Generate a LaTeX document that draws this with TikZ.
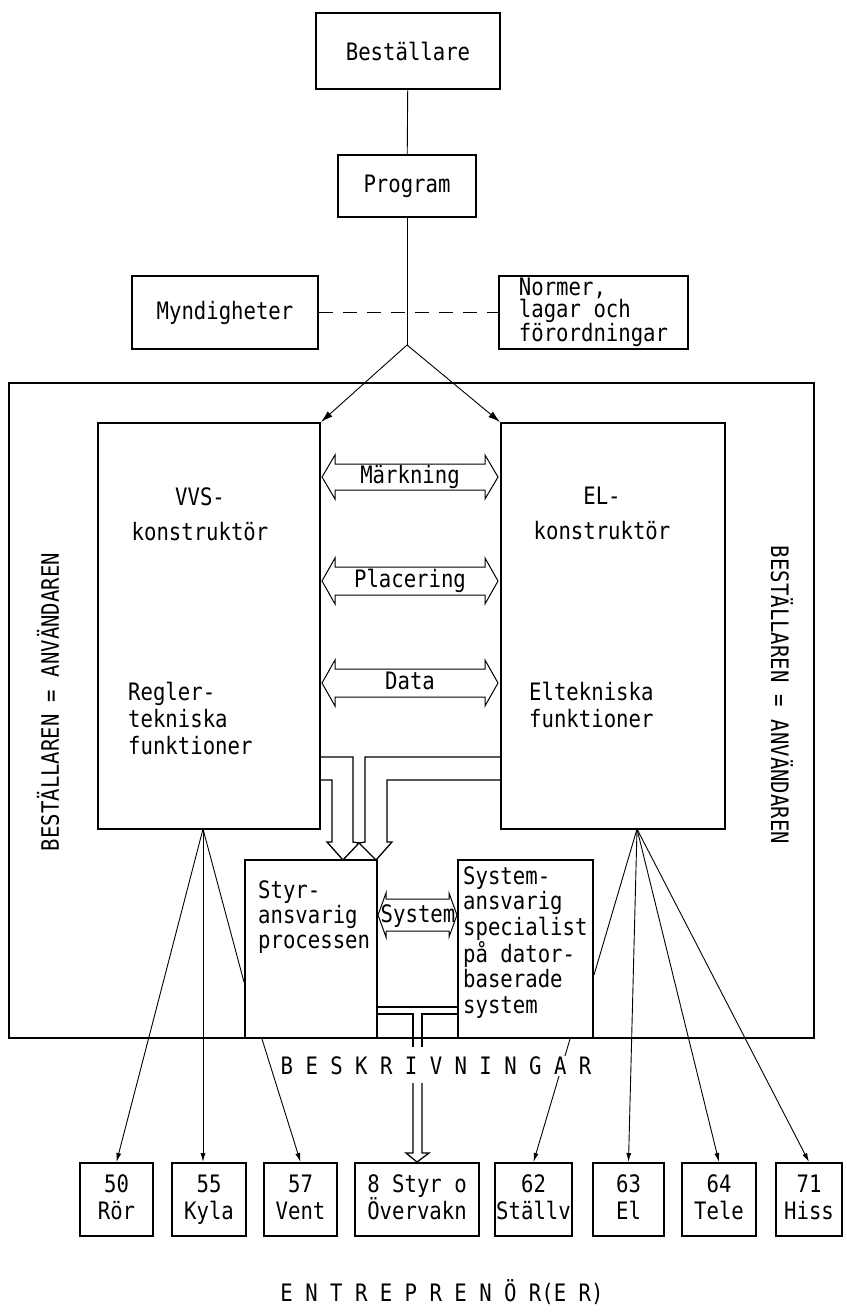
\documentclass[tikz,border=0pt]{standalone}
\usepackage{fontspec}
\setmainfont{DejaVu Sans Mono}[FakeStretch=0.86]
\usetikzlibrary{arrows.meta}
\newcommand{\blockarrow}[6]{%
  \draw[barrow] (#1,#3) -- ({#1+#6},{#3-#5}) -- ({#1+#6},{#3-#4}) -- ({#2-#6},{#3-#4}) -- ({#2-#6},{#3-#5}) -- (#2,#3) -- ({#2-#6},{#3+#5}) -- ({#2-#6},{#3+#4}) -- ({#1+#6},{#3+#4}) -- ({#1+#6},{#3+#5}) -- cycle;}

\begin{document}
\begin{tikzpicture}[x=1pt,y=-1pt,
    font=\fontsize{24}{27}\selectfont,
    box/.style={draw,line width=2pt,inner sep=0pt},
    bbox/.style={box,minimum height=73pt,align=center,text depth=5pt},
    txt/.style={inner sep=0pt,align=left},
    lbl/.style={inner sep=0pt,text height=17pt,text depth=4pt},
    barrow/.style={line width=1pt},
    pipe/.style={line width=1.3pt},
    conn/.style={line width=0.9pt},
    tip/.style={-{Latex[length=9pt,width=5pt]}},
    bigtip/.style={-{Latex[length=12pt,width=7pt]}}]
    \useasboundingbox (0,0) rectangle (846,1313);
    \draw[line width=1.1pt] (9,383) rectangle (814,1038);
    \node[box,minimum width=184pt,minimum height=76pt] (best) at (408,51) {Beställare};
    \node[box,minimum width=138pt,minimum height=62pt] (prog) at (407,186) {Program};
    \node[box,minimum width=186pt,minimum height=73pt] (mynd) at (225,312.5) {Myndigheter};
    \node[box,minimum width=189pt,minimum height=73pt,align=left,font=\fontsize{24}{22}\selectfont] (norm) at (593.5,312.5) {Normer,\\lagar och\\förordningar};
    \coordinate (apex) at (407,345);
    \node[box,minimum width=222pt,minimum height=406pt] (vvs) at (209,626) {};
    \node[box,minimum width=224pt,minimum height=406pt] (el) at (613,626) {};
    \node[box,minimum width=132pt,minimum height=178pt] (styr) at (311,949) {};
    \node[box,minimum width=135pt,minimum height=178pt] (sys) at (525.5,949) {};
    \draw[conn] (best) -- (prog);
    \draw[conn] (prog) -- (apex);
    \draw[conn,bigtip] (apex) -- (vvs.north east);
    \draw[conn,bigtip] (apex) -- (el.north west);
    \draw[conn,dash pattern=on 14pt off 10pt] (mynd) -- (norm);
    \node[txt,anchor=north,align=center] (vvst) at (200,487) {VVS-\\[8pt]konstruktör};
    \node[txt,anchor=north west] (vvsf) at (128,682) {Regler-\\tekniska\\funktioner};
    \node[txt,anchor=north,align=center] (elt) at (602,487) {EL-\\[8pt]konstruktör};
    \node[txt,anchor=north west] (elf) at (529,682) {Eltekniska\\funktioner};
    \node[txt,anchor=north west,font=\fontsize{24}{25}\selectfont] (styrt) at (258,880) {Styr-\\ansvarig\\processen};
    \node[txt,anchor=north west,font=\fontsize{24}{25.5}\selectfont] (syst) at (463,866) {System-\\ansvarig\\specialist\\på dator-\\baserade\\system};
    \node[rotate=90] (lside) at (48,702) {BESTÄLLAREN = ANVÄNDAREN};
    \node[rotate=-90] (rside) at (782,695) {BESTÄLLAREN = ANVÄNDAREN};
    \blockarrow{322}{498}{477}{13}{22}{13}
    \node[lbl] (mark) at (410,477) {Märkning};
    \blockarrow{322}{498}{581}{14}{23}{13}
    \node[lbl] (plac) at (410,581) {Placering};
    \blockarrow{322}{498}{683}{14}{23}{13}
    \node[lbl] (data) at (410,683) {Data};
    \blockarrow{378}{457}{915}{16}{22}{8}
    \node[lbl] (sysa) at (418,916) {System};
    \draw[pipe] (vvs.east |- 0,757) -- (353,757) -- (353,842) -- (359,843) -- (343,860) -- (327,842) -- (332,842) -- (332,780) -- (vvs.east |- 0,780);
    \draw[pipe] (el.west |- 0,757) -- (365,757) -- (365,842) -- (359,843) -- (376,860) -- (392,842) -- (387,842) -- (387,780) -- (el.west |- 0,780);
    \draw[pipe] (styr.east |- 0,1007) -- (sys.west |- 0,1007);
    \draw[pipe] (styr.east |- 0,1014) -- (413,1014) -- (413,1047);
    \draw[pipe] (sys.west |- 0,1014) -- (422,1014) -- (422,1047);
    \node[bbox,minimum width=73pt] (r50) at (116.5,1199.5) {50\\Rör};
    \node[bbox,minimum width=74pt] (r55) at (209,1199.5) {55\\Kyla};
    \node[bbox,minimum width=73pt] (r57) at (300.5,1199.5) {57\\Vent};
    \node[bbox,minimum width=124pt,align=left] (r8) at (417,1199.5) {8 Styr o\\Övervakn};
    \node[bbox,minimum width=77pt] (r62) at (533.5,1199.5) {62\\Ställv};
    \node[bbox,minimum width=71pt] (r63) at (628.5,1199.5) {63\\El};
    \node[bbox,minimum width=74pt] (r64) at (719,1199.5) {64\\Tele};
    \node[bbox,minimum width=66pt] (r71) at (809,1199.5) {71\\Hiss};
    \draw[pipe] (413,1083) -- (413,1153) -- (406,1153) -- (r8.north) -- (429,1153) -- (422,1153) -- (422,1083);
    \coordinate (vf) at (203,829);
    \draw[conn,tip] (vf) -- (r50.north);
    \draw[conn,tip] (vf) -- (vf |- r55.north);
    \draw[conn] (vf) -- ([yshift=-33pt]styr.west);
    \draw[conn,tip] ([xshift=18pt]styr.south west) -- (r57.north);
    \coordinate (ef) at (637,829);
    \draw[conn] (ef) -- ([yshift=-26pt]sys.east);
    \draw[conn,tip] (ef) -- (r63.north);
    \draw[conn,tip] (ef) -- (r64.north);
    \draw[conn,tip] (ef) -- (r71.north);
    \draw[conn,tip] ([xshift=-24pt]sys.south east) -- (r62.north);
    \node[fill=white,inner sep=1pt] (beskr) at (436,1066) {B E S K R I V N I N G A R};
    \node (entr) at (442,1292) {E N T R E P R E N Ö R(E R)};
\end{tikzpicture}
\end{document}
